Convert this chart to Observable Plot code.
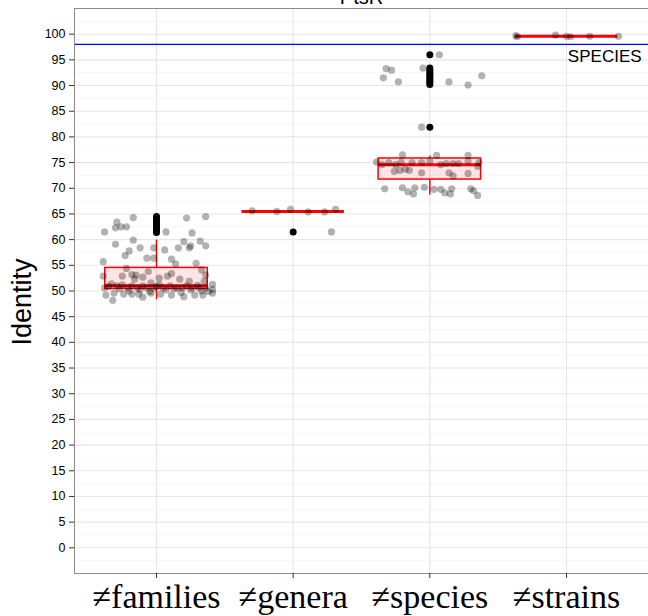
<!DOCTYPE html>
<html>
<head>
<meta charset="utf-8">
<script src="https://cdn.jsdelivr.net/npm/d3@7"></script>
<script src="https://cdn.jsdelivr.net/npm/@observablehq/plot@0.6"></script>
<style>
  html, body { margin: 0; padding: 0; background: white; }
  svg { display: block; }
</style>
</head>
<body>
<div id="chart"></div>
<script>
const title = "PtsR";
const categories = ["≠families", "≠genera", "≠species", "≠strains"];
const yTicks = [0,5,10,15,20,25,30,35,40,45,50,55,60,65,70,75,80,85,90,95,100];
const speciesThreshold = 98;
const thresholdLabel = "SPECIES";

// box statistics per category
const boxLo  = [48.3, 65.5, 68.7, 99.6];
const boxQ1  = [50.4, 65.5, 71.7, 99.6];
const boxMed = [51.0, 65.5, 74.6, 99.6];
const boxQ3  = [54.5, 65.5, 75.8, 99.6];
const boxHi  = [59.9, 65.5, 76.3, 99.7];

// outliers (drawn at the category centre)
const familiesOutliers = [64.5,64.1,63.7,63.3,62.9,62.5,62.1,61.7,61.4];
const generaOutliers = [61.5];
const speciesOutliers = [96.0,93.4,93.0,92.6,92.2,91.8,91.4,91.0,90.6,90.2,81.9];
const strainsOutliers = [];

// jittered observations: offset from category centre, identity value
const familiesJitter = [-0.29,-0.17,-0.38,-0.30,-0.26,-0.22,0.07,0.22,0.36,0.26,-0.30,-0.17,-0.12,-0.20,-0.23,-0.02,0.06,0.16,0.20,0.24,0.25,0.32,0.36,-0.07,-0.02,0.11,0.14,0.29,-0.39,-0.22,-0.39,-0.33,-0.25,-0.18,-0.15,-0.10,-0.06,-0.16,-0.04,0.02,0.08,0.11,0.17,0.24,0.33,0.36,0.35,-0.38,-0.29,-0.25,-0.21,-0.18,-0.14,-0.10,-0.07,-0.02,0.02,0.05,0.10,0.15,0.19,0.22,0.26,0.31,0.36,0.41,0.41,-0.37,-0.32,-0.24,-0.18,-0.13,-0.10,-0.04,0.03,0.11,0.20,0.28,0.34,0.41,-0.35,-0.27,-0.12,0.00,0.07,0.13,0.25,0.30,0.38,-0.05,0.18,-0.20,0.33,-0.31];
const familiesY = [63.4,64.3,61.5,62.3,62.5,62.5,61.5,64.2,64.5,61.3,59.1,59.9,58.4,57.8,56.9,58.4,58.0,58.4,59.6,58.4,58.8,59.7,58.8,56.4,56.4,56.2,55.3,55.4,55.7,54.4,52.9,51.4,52.9,53.2,53.1,52.7,53.8,52.3,51.6,52.5,52.9,53.4,52.3,51.9,54.1,53.1,51.9,50.6,51.0,51.2,50.6,51.0,50.6,51.0,50.6,50.6,51.2,50.6,51.0,50.6,50.6,51.0,50.6,50.6,50.6,51.3,50.3,49.2,48.2,49.4,49.4,49.4,48.8,49.6,49.4,49.2,48.9,49.2,49.2,49.6,50.9,50.4,50.2,50.9,50.2,50.4,50.2,51.1,49.9,49.9,49.7,50.0,50.0,49.6];
const generaJitter = [-0.02,0.11,0.23,0.31,0.28,-0.30,-0.12];
const generaY = [65.9,65.4,65.4,65.9,61.5,65.6,65.5];
const speciesJitter = [0.07,-0.32,-0.28,-0.34,-0.23,-0.05,0.14,0.28,0.38,-0.06,-0.20,-0.39,-0.35,-0.30,-0.25,-0.21,-0.26,-0.22,-0.18,-0.15,-0.06,-0.06,0.0,0.05,0.08,0.12,0.17,0.21,0.14,0.17,0.28,0.28,0.36,0.28,0.35,-0.13,-0.33,-0.20,-0.16,-0.12,-0.11,-0.04,0.03,0.08,0.11,0.16,0.30,0.32,0.35,0.15];
const speciesY = [96.0,93.3,93.0,91.5,90.7,93.4,90.7,90.1,91.9,81.9,76.5,75.1,74.6,75.0,74.6,75.1,73.3,73.5,73.7,73.5,75.0,73.0,75.3,76.4,74.6,74.8,74.8,74.8,73.0,72.4,76.4,75.3,75.0,72.9,74.3,75.0,69.9,70.1,69.3,68.9,70.1,70.2,69.8,69.8,69.1,69.9,69.9,69.5,68.6,68.9];
const strainsJitter = [-0.37,-0.36,-0.08,0.0,0.03,0.17,0.38];
const strainsY = [99.7,99.5,99.8,99.6,99.5,99.6,99.6];

// build tables
const boxes = categories.map((c, i) => ({
  pos: i + 1, lo: boxLo[i], q1: boxQ1[i], med: boxMed[i], q3: boxQ3[i], hi: boxHi[i]
}));
const jitterSets = [[familiesJitter, familiesY], [generaJitter, generaY], [speciesJitter, speciesY], [strainsJitter, strainsY]];
const points = jitterSets.flatMap(([js, ys], i) => js.map((j, k) => ({ x: i + 1 + j, y: ys[k] })));
const outlierSets = [familiesOutliers, generaOutliers, speciesOutliers, strainsOutliers];
const outliers = outlierSets.flatMap((ys, i) => ys.map(y => ({ x: i + 1, y })));
const catPos = categories.map((c, i) => i + 1);
const minorTicks = yTicks.map(t => t - 2.5).concat([yTicks[yTicks.length - 1] + 2.5]);
const halfW = 0.375;

const chart = Plot.plot({
  width: 648,
  height: 616,
  marginLeft: 74,
  marginRight: 0,
  marginTop: 8,
  marginBottom: 43,
  style: { fontFamily: "Liberation Sans, Arial, sans-serif", background: "white" },
  x: { domain: [0.4, 4.6] },
  y: { domain: [-5, 105] },
  marks: [
    Plot.ruleY(minorTicks, { stroke: "#f2f2f2", strokeWidth: 0.6 }),
    Plot.ruleY(yTicks, { stroke: "#e6e6e6", strokeWidth: 1.1 }),
    Plot.ruleX(catPos, { stroke: "#e6e6e6", strokeWidth: 1.1 }),
    Plot.ruleY([speciesThreshold], { stroke: "#0000ff", strokeWidth: 1.3 }),
    Plot.text([thresholdLabel], { x: 4.01, y: speciesThreshold, dy: 12, textAnchor: "start", fontSize: 17, fill: "black" }),
    // whiskers
    Plot.ruleX(boxes, { x: "pos", y1: "lo", y2: "q1", stroke: "red", strokeWidth: 1.5 }),
    Plot.ruleX(boxes, { x: "pos", y1: "q3", y2: "hi", stroke: "red", strokeWidth: 1.5 }),
    // boxes
    Plot.rect(boxes, { x1: d => d.pos - halfW, x2: d => d.pos + halfW, y1: "q1", y2: "q3", fill: "red", fillOpacity: 0.1, stroke: "red", strokeWidth: 1.5 }),
    Plot.ruleY(boxes, { x1: d => d.pos - halfW, x2: d => d.pos + halfW, y: "med", stroke: "red", strokeWidth: 3 }),
    // outliers
    Plot.dot(outliers, { x: "x", y: "y", r: 3.5, fill: "black", stroke: "none" }),
    // jittered points
    Plot.dot(points, { x: "x", y: "y", r: 3.6, fill: "black", fillOpacity: 0.3, stroke: "none" }),
    Plot.frame({ stroke: "#8a8a8a", strokeWidth: 1 }),
    Plot.axisY({ ticks: yTicks, tickSize: 5, tickPadding: 4, fontSize: 12.5, label: null, stroke: "#333" }),
    Plot.axisX({ ticks: catPos, tickFormat: i => categories[i - 1], tickSize: 5, tickPadding: 5, fontSize: 34, fontFamily: "Liberation Serif, Times New Roman, serif", label: null, stroke: "#333", fill: "black" }),
    Plot.text(["Identity"], { frameAnchor: "left", textAnchor: "middle", dx: -52, dy: 11, rotate: -90, fontSize: 27, fill: "black" }),
    Plot.text([title], { frameAnchor: "top", dy: -5, lineAnchor: "bottom", fontSize: 20, fill: "black" })
  ]
});
document.getElementById("chart").appendChild(chart);
</script>
</body>
</html>
